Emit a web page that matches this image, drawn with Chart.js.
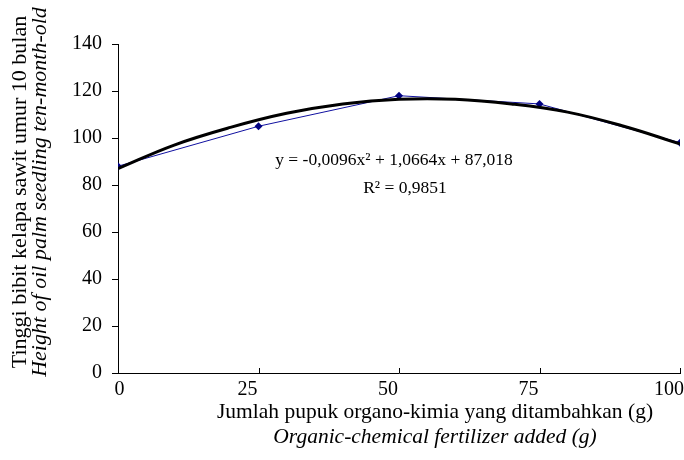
<!DOCTYPE html>
<html>
<head>
<meta charset="utf-8">
<script src="https://cdn.jsdelivr.net/npm/chart.js@4"></script>
<style>
  body { margin: 0; background: #fff; }
</style>
</head>
<body>
<canvas id="chart" width="684" height="460"></canvas>
<script>
// fertilizer dose (g) and measured seedling height
const doses = [0, 25, 50, 75, 100];
const heights = [88, 105, 118, 114.5, 98];

// polynomial trendline
const trendX = [0, 10, 20, 30, 40, 50, 60, 70, 80, 90, 100];
const trendY = [87, 97, 104.5, 110.5, 114.5, 116.5, 116.5, 114.5, 111, 105, 97.5];

const xTicks = [0, 25, 50, 75, 100];
const yTicks = [0, 20, 40, 60, 80, 100, 120, 140];

const equation = "y = -0,0096x² + 1,0664x + 87,018";
const rSquared = "R² = 0,9851";

const yTitle = "Tinggi bibit kelapa sawit umur 10 bulan";
const yTitleEn = "Height of oil palm seedling ten-month-old";
const xTitle = "Jumlah pupuk organo-kimia yang ditambahkan (g)";
const xTitleEn = "Organic-chemical fertilizer added (g)";

const serif = "'Liberation Serif', 'Times New Roman', serif";

// titles, equation and the small inward x ticks
const extras = {
  id: "extras",
  afterDraw(chart) {
    const c = chart.ctx;
    const xs = chart.scales.x;
    const area = chart.chartArea;
    c.save();
    c.strokeStyle = "#000";
    c.lineWidth = 1;
    xTicks.forEach(function (v) {
      const px = Math.round(xs.getPixelForValue(v)) + 0.5;
      c.beginPath();
      c.moveTo(px, area.bottom);
      c.lineTo(px, area.bottom - 5);
      c.stroke();
    });

    c.fillStyle = "#000";
    c.textAlign = "center";
    c.textBaseline = "middle";
    c.font = "17.5px " + serif;
    c.fillText(equation, 394, 160);
    c.fillText(rSquared, 405, 188);

    c.font = "21.5px " + serif;
    c.fillText(xTitle, 435, 412);
    c.font = "italic 21.5px " + serif;
    c.fillText(xTitleEn, 435, 437);

    c.translate(20, 192);
    c.rotate(-Math.PI / 2);
    c.font = "22px " + serif;
    c.fillText(yTitle, 0, 0);
    c.font = "italic 22px " + serif;
    c.fillText(yTitleEn, 0, 20);
    c.restore();
  }
};

new Chart(document.getElementById("chart"), {
  type: "line",
  data: {
    datasets: [
      {
        label: "Trendline",
        data: trendX.map(function (x, i) { return { x: x, y: trendY[i] }; }),
        borderColor: "#000",
        borderWidth: 3,
        pointRadius: 0,
        tension: 0.4,
        fill: false,
        order: 1
      },
      {
        label: "Tinggi bibit",
        data: doses.map(function (x, i) { return { x: x, y: heights[i] }; }),
        borderColor: "#1010a0",
        backgroundColor: "#000080",
        borderWidth: 1,
        pointStyle: "rectRot",
        pointRadius: 4,
        pointBorderWidth: 0,
        fill: false,
        order: 2
      }
    ]
  },
  options: {
    responsive: false,
    animation: false,
    layout: { padding: { top: 44, right: 1, left: 0, bottom: 0 } },
    plugins: {
      legend: { display: false },
      tooltip: { enabled: false }
    },
    scales: {
      x: {
        type: "linear",
        min: 0,
        max: 100,
        afterBuildTicks: function (s) { s.ticks = xTicks.map(function (v) { return { value: v }; }); },
        afterFit: function (s) { s.height = 87; s.paddingLeft = 0; s.paddingRight = 0; },
        grid: { display: false },
        border: { color: "#000", width: 1 },
        ticks: {
          color: "#000",
          font: { family: serif, size: 20 },
          padding: -3,
          labelOffset: -11,
          maxRotation: 0,
          callback: function (v) { return v === 0 ? "     0" : String(v); }
        }
      },
      y: {
        min: 0,
        max: 140,
        afterBuildTicks: function (s) { s.ticks = yTicks.map(function (v) { return { value: v }; }); },
        afterFit: function (s) { s.width = 118; },
        grid: { drawOnChartArea: false, tickLength: 6, color: "#000" },
        border: { color: "#000", width: 1 },
        ticks: {
          color: "#000",
          font: { family: serif, size: 20 },
          padding: 10
        }
      }
    }
  },
  plugins: [extras]
});
</script>
</body>
</html>
